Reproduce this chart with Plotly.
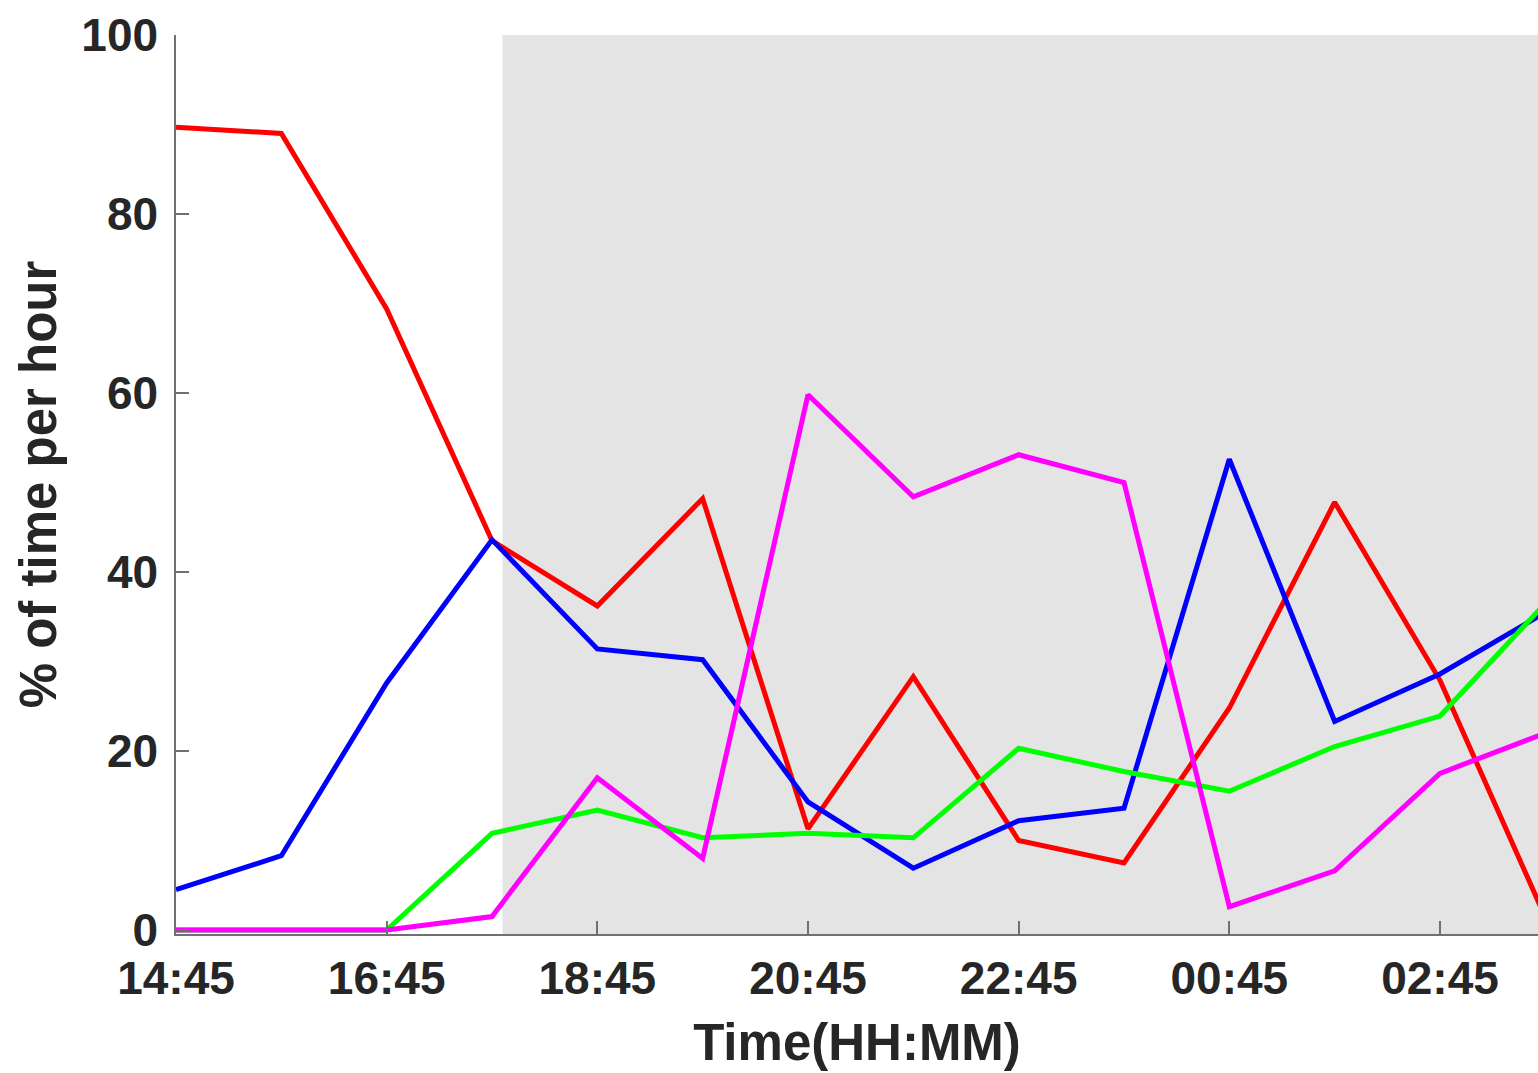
import plotly.graph_objects as go

# Hourly time stamps (HH:45), crossing midnight
times = [
    "2021-01-01 14:45", "2021-01-01 15:45", "2021-01-01 16:45", "2021-01-01 17:45",
    "2021-01-01 18:45", "2021-01-01 19:45", "2021-01-01 20:45", "2021-01-01 21:45",
    "2021-01-01 22:45", "2021-01-01 23:45", "2021-01-02 00:45", "2021-01-02 01:45",
    "2021-01-02 02:45", "2021-01-02 03:45",
]

red_vals = [89.7, 89.0, 69.4, 43.5, 36.2, 48.2, 11.3, 28.3, 10.0, 7.5, 24.8, 47.8, 27.9, 1.4]
blue_vals = [4.5, 8.3, 27.6, 43.6, 31.4, 30.2, 14.3, 6.9, 12.2, 13.6, 52.6, 23.3, 28.6, 35.5]
green_vals = [0, 0, 0, 10.8, 13.4, 10.3, 10.8, 10.3, 20.3, 17.7, 15.5, 20.5, 23.9, 36.5]
magenta_vals = [0, 0, 0, 1.5, 17.0, 8.0, 59.8, 48.4, 53.1, 50.0, 2.6, 6.6, 17.5, 22.0]

series = [
    ("red", red_vals, "#FF0000"),
    ("blue", blue_vals, "#0000FF"),
    ("green", green_vals, "#00FF00"),
    ("magenta", magenta_vals, "#FF00FF"),
]

night_start = "2021-01-01 17:51"
x_start = "2021-01-01 14:45"
x_end = "2021-01-02 03:40:50"

FONT = "Liberation Sans, Arial, Helvetica, sans-serif"
TXT = "#262626"
AX = "#707070"

fig = go.Figure()
for name, vals, col in series:
    fig.add_trace(go.Scatter(x=times, y=vals, mode="lines", name=name,
                             line=dict(color=col, width=5), showlegend=False))

fig.add_shape(type="rect", xref="x", yref="paper", x0=night_start, x1=x_end,
              y0=0, y1=1, fillcolor="#E4E4E4", line=dict(width=0), layer="below")

fig.update_layout(
    width=1538, height=1073,
    margin=dict(l=176, r=0, t=35, b=139),
    paper_bgcolor="white", plot_bgcolor="white",
    font=dict(family=FONT, color=TXT),
    xaxis=dict(
        type="date", range=[x_start, x_end],
        tick0=x_start, dtick=2 * 3600 * 1000, tickformat="%H:%M",
        ticks="inside", ticklen=13, tickwidth=1.5, tickcolor=AX,
        showline=True, linecolor=AX, linewidth=1.5,
        showgrid=False, zeroline=False,
        tickfont=dict(size=46, family=FONT, color=TXT, weight="bold"),
        ticklabelstandoff=3,
        title=dict(text="Time(HH:MM)", standoff=21,
                   font=dict(size=51, family=FONT, color=TXT, weight="bold")),
    ),
    yaxis=dict(
        range=[-0.45, 100], tickvals=[0, 20, 40, 60, 80, 100],
        ticks="inside", ticklen=13, tickwidth=1.5, tickcolor=AX,
        showline=True, linecolor=AX, linewidth=1.5,
        showgrid=False, zeroline=False,
        tickfont=dict(size=46, family=FONT, color=TXT, weight="bold"),
        ticklabelstandoff=7,
        title=dict(text="% of time per hour", standoff=8,
                   font=dict(size=51, family=FONT, color=TXT, weight="bold")),
    ),
)

fig.write_html("out.html")
